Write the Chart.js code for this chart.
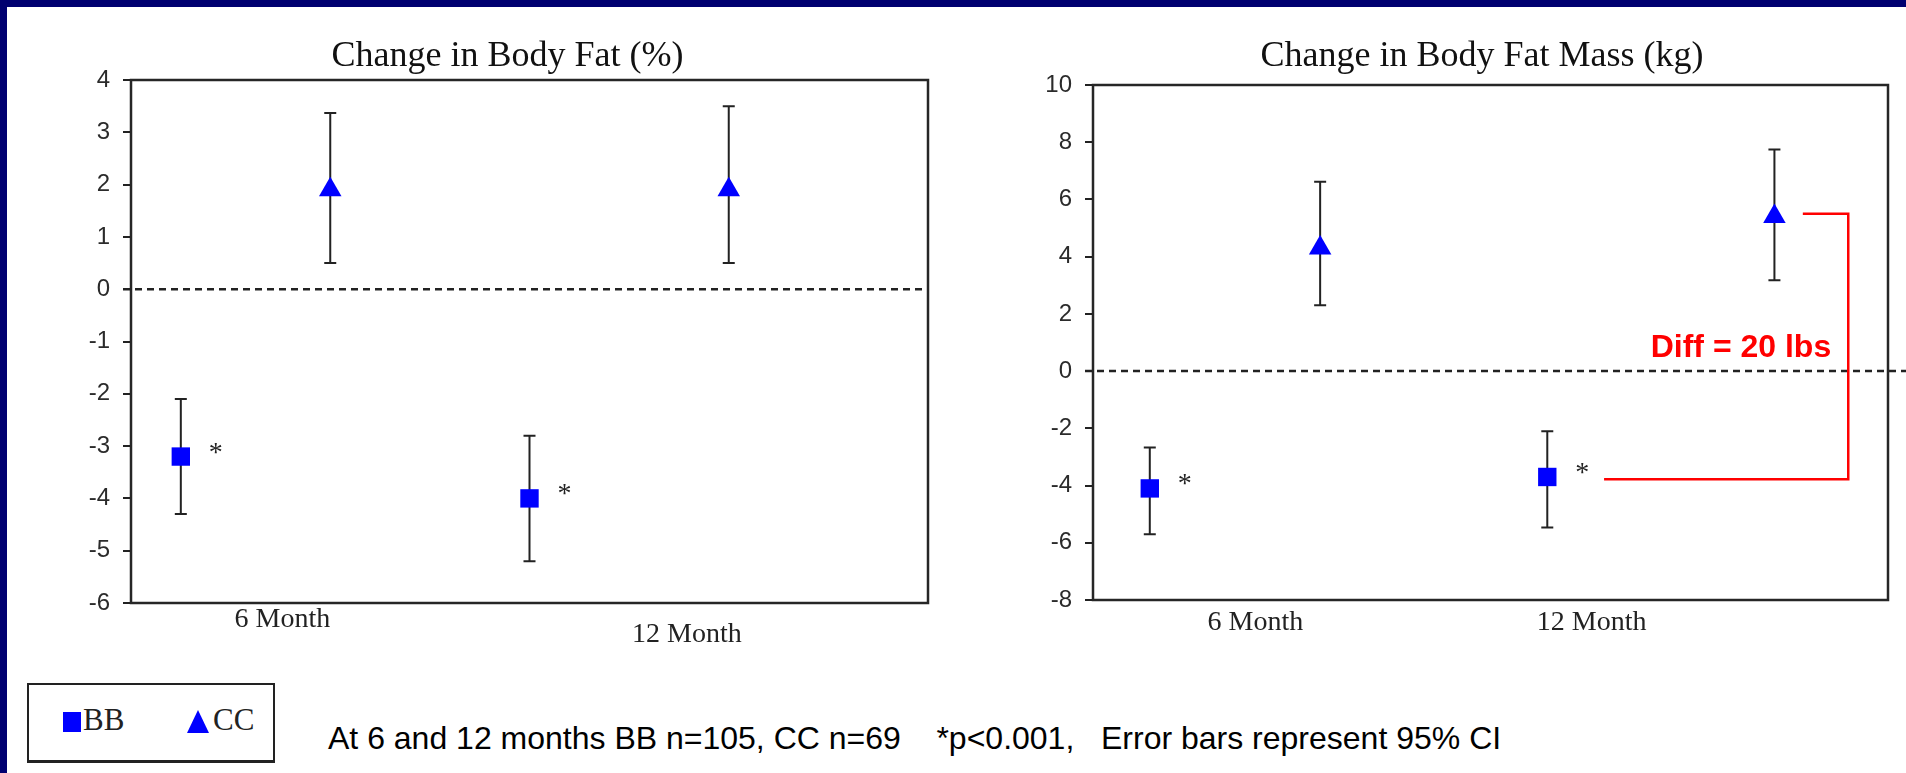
<!DOCTYPE html>
<html>
<head>
<meta charset="utf-8">
<title>Change in Body Fat</title>
<script src="https://cdn.jsdelivr.net/npm/chart.js@4.4.1/dist/chart.umd.min.js"></script>
<style>
  html, body { margin: 0; padding: 0; background: #fff; width: 1906px; height: 773px; overflow: hidden; position: relative; }
  .frame-top { position: absolute; left: 0; top: 0; width: 1906px; height: 7px; background: #000070; z-index: 5; }
  .frame-left { position: absolute; left: 0; top: 0; width: 7px; height: 773px; background: #000070; z-index: 5; }
  #fatPct { position: absolute; left: 0; top: 0; }
  #fatKg { position: absolute; left: 980px; top: 0; }
  .legend { position: absolute; left: 27px; top: 683px; width: 244px; height: 75px; border: 2px solid #222; border-bottom-width: 3px; background: #fff;
            font-family: 'Liberation Serif', 'Times New Roman', serif; font-size: 31px; line-height: 31px; color: #222; }
  .legend span { position: absolute; white-space: pre; }
  .legend .sq { left: 34px; top: 27px; width: 18px; height: 20px; background: #0000ff; }
  .legend .tri { left: 158px; top: 25px; width: 0; height: 0; border-left: 11px solid transparent; border-right: 11px solid transparent; border-bottom: 23px solid #0000ff; }
  .note { position: absolute; left: 328px; top: 722px; font-family: 'Liberation Sans', Arial, sans-serif; font-size: 32px; line-height: 32px; color: #000; white-space: pre; }
</style>
</head>
<body>
<div class="frame-top"></div>
<div class="frame-left"></div>
<canvas id="fatPct" width="960" height="660"></canvas>
<canvas id="fatKg" width="926" height="660"></canvas>
<div class="legend" id="legend"></div>
<div class="note" id="note"></div>

<script>
// categories and x positions (linear x scale)
const periods = ['6 Month', '12 Month'];
const bbX = [0.5, 4];
const ccX = [2, 6];
const series = ['BB', 'CC'];

// Change in Body Fat (%)
const bbPct = [-3.2, -4.0];
const bbPctLo = [-4.3, -5.2];
const bbPctHi = [-2.1, -2.8];
const ccPct = [1.9, 1.9];
const ccPctLo = [0.5, 0.5];
const ccPctHi = [3.37, 3.5];
const pctTicks = [-6, 4, 1];      // min, max, step
const pctLabelX = [1.52, 5.58];

// Change in Body Fat Mass (kg)
const bbKg = [-4.1, -3.7];
const bbKgLo = [-5.7, -5.47];
const bbKgHi = [-2.67, -2.1];
const ccKg = [4.3, 5.4];
const ccKgLo = [2.3, 3.18];
const ccKgHi = [6.62, 7.75];
const kgTicks = [-8, 10, 2];
const kgLabelX = [1.43, 4.39];

// "Diff = 20 lbs" bracket between 12 month CC and BB
const diffX = [6.25, 6.65, 6.65, 4.5];
const diffY = [5.5, 5.5, -3.78, -3.78];

const footnote = 'At 6 and 12 months BB n=105, CC n=69    *p<0.001,   Error bars represent 95% CI';

Chart.defaults.font.family = "'Liberation Sans', Arial, sans-serif";
Chart.defaults.color = '#222';

function toPoints(xs, ys) {
  return xs.map((x, i) => ({ x: x, y: ys[i] }));
}

// draws title, frame, dashed zero line, error bars, asterisks, period labels, notes
function makeOverlay(cfg) {
  return {
    id: 'overlay',
    beforeDatasetsDraw(chart) {
      const { ctx, chartArea: a } = chart;
      const x = chart.scales.x, y = chart.scales.y;
      ctx.save();
      ctx.strokeStyle = '#262626';
      ctx.lineWidth = 2.5;
      ctx.strokeRect(a.left, a.top, a.right - a.left, a.bottom - a.top);

      const y0 = y.getPixelForValue(0);
      ctx.setLineDash([7, 5]);
      ctx.strokeStyle = '#222';
      ctx.beginPath();
      ctx.moveTo(a.left - 8, y0);
      ctx.lineTo(cfg.zeroToEdge ? chart.width : a.right - 2, y0);
      ctx.stroke();

      ctx.setLineDash([]);
      ctx.lineWidth = 2;
      cfg.bars.forEach(b => {
        b.x.forEach((xv, i) => {
          const px = x.getPixelForValue(xv);
          const lo = y.getPixelForValue(b.lo[i]);
          const hi = y.getPixelForValue(b.hi[i]);
          ctx.beginPath();
          ctx.moveTo(px, lo); ctx.lineTo(px, hi);
          ctx.moveTo(px - 6, lo); ctx.lineTo(px + 6, lo);
          ctx.moveTo(px - 6, hi); ctx.lineTo(px + 6, hi);
          ctx.stroke();
        });
      });
      ctx.restore();
    },
    afterDatasetsDraw(chart) {
      const { ctx, chartArea: a } = chart;
      const x = chart.scales.x, y = chart.scales.y;
      ctx.save();
      ctx.fillStyle = '#111';
      ctx.font = "36px 'Liberation Serif', 'Times New Roman', serif";
      ctx.textAlign = 'center';
      ctx.textBaseline = 'alphabetic';
      ctx.fillText(cfg.title, (a.left + a.right) / 2 + cfg.titleShift, a.top - cfg.titleGap);

      ctx.fillStyle = '#222';
      ctx.font = "28px 'Liberation Serif', 'Times New Roman', serif";
      cfg.starX.forEach((xv, i) => {
        ctx.fillText('*', x.getPixelForValue(xv) + 35, y.getPixelForValue(cfg.starY[i]) + 4);
      });

      ctx.textBaseline = 'middle';
      periods.forEach((p, i) => {
        ctx.fillText(p, x.getPixelForValue(cfg.labelX[i]), a.bottom + cfg.labelDrop[i]);
      });

      if (cfg.note) {
        ctx.font = "bold 32px 'Liberation Sans', Arial, sans-serif";
        ctx.fillStyle = '#ff0000';
        ctx.textAlign = 'right';
        ctx.textBaseline = 'alphabetic';
        ctx.fillText(cfg.note.text, x.getPixelForValue(cfg.note.x), y.getPixelForValue(cfg.note.y));
      }
      ctx.restore();
    }
  };
}

function buildChart(canvasId, bbVals, ccVals, ticks, xMax, axisWidth, padding, extra, overlay) {
  const datasets = [
    { label: series[0], data: toPoints(bbX, bbVals), pointStyle: 'rect', pointRadius: 13, pointHoverRadius: 13,
      backgroundColor: '#0000ff', borderWidth: 0 },
    { label: series[1], data: toPoints(ccX, ccVals), pointStyle: 'triangle', pointRadius: 13, pointHoverRadius: 13,
      backgroundColor: '#0000ff', borderWidth: 0 }
  ].concat(extra);

  return new Chart(document.getElementById(canvasId), {
    type: 'scatter',
    data: { datasets: datasets },
    options: {
      responsive: false,
      animation: false,
      devicePixelRatio: 1,
      layout: { padding: padding },
      plugins: {
        legend: { display: false },
        tooltip: { enabled: false },
        title: { display: false }
      },
      scales: {
        x: { type: 'linear', min: 0, max: xMax, display: false },
        y: {
          min: ticks[0], max: ticks[1],
          ticks: { stepSize: ticks[2], padding: 13, color: '#2b2b2b', font: { size: 24 } },
          grid: { display: true, drawOnChartArea: false, drawTicks: true, tickLength: 8, color: '#222', lineWidth: 2 },
          border: { display: false },
          afterFit: s => { s.width = axisWidth; }
        }
      }
    },
    plugins: [makeOverlay(overlay)]
  });
}

buildChart('fatPct', bbPct, ccPct, pctTicks, 8, 121,
  { left: 10, right: 32, top: 80, bottom: 57 }, [],
  {
    title: 'Change in Body Fat (%)', titleShift: -22, titleGap: 14,
    zeroToEdge: false,
    bars: [{ x: bbX, lo: bbPctLo, hi: bbPctHi }, { x: ccX, lo: ccPctLo, hi: ccPctHi }],
    starX: bbX, starY: bbPct,
    labelX: pctLabelX, labelDrop: [17, 32]
  });

buildChart('fatKg', bbKg, ccKg, kgTicks, 7, 93,
  { left: 20, right: 18, top: 85, bottom: 60 },
  [{ label: 'Diff', data: toPoints(diffX, diffY), showLine: true, borderColor: '#ff0000', borderWidth: 2.5,
     pointRadius: 0, pointHoverRadius: 0, fill: false, tension: 0, borderJoinStyle: 'miter' }],
  {
    title: 'Change in Body Fat Mass (kg)', titleShift: -8.5, titleGap: 19,
    zeroToEdge: true,
    bars: [{ x: bbX, lo: bbKgLo, hi: bbKgHi }, { x: ccX, lo: ccKgLo, hi: ccKgHi }],
    starX: bbX, starY: bbKg,
    labelX: kgLabelX, labelDrop: [23, 23],
    note: { text: 'Diff = 20 lbs', x: 6.5, y: 0.5 }
  });

// legend box and footnote
const legendEl = document.getElementById('legend');
legendEl.innerHTML =
  '<span class="sq"></span><span style="left:54px;top:19px">' + series[0] + '</span>' +
  '<span class="tri"></span><span style="left:184px;top:19px">' + series[1] + '</span>';
document.getElementById('note').textContent = footnote;
</script>
</body>
</html>
